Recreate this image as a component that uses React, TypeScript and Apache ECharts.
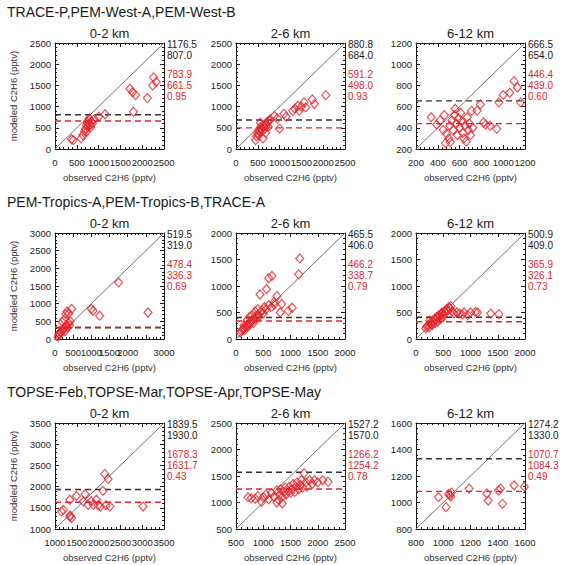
import React, { useEffect, useRef } from "react";
import * as echarts from "echarts";

const FONT = "'Liberation Sans', Arial, Helvetica, sans-serif";
const RED = "#e3262d";
const INK = "#1a1a1a";

const rowTitles = [
  "TRACE-P,PEM-West-A,PEM-West-B",
  "PEM-Tropics-A,PEM-Tropics-B,TRACE-A",
  "TOPSE-Feb,TOPSE-Mar,TOPSE-Apr,TOPSE-May",
];
const altitudeBands = ["0-2 km", "2-6 km", "6-12 km"];

// [min, max, interval] shared by x and y in each panel
const axisRanges = [
  [0, 2500, 500],
  [0, 2500, 500],
  [200, 1200, 200],
  [0, 3000, 500],
  [0, 2000, 500],
  [0, 2000, 500],
  [1000, 3500, 500],
  [500, 2500, 500],
  [800, 1600, 200],
];

// observed mean, observed median (black)
const observedStats = [
  [1176.5, 807.0],
  [880.8, 684.0],
  [666.5, 654.0],
  [519.5, 319.0],
  [465.5, 406.0],
  [500.9, 409.0],
  [1839.5, 1930.0],
  [1527.2, 1570.0],
  [1274.2, 1330.0],
];

// modeled mean, modeled median, correlation (red)
const modeledStats = [
  [783.9, 661.5, 0.95],
  [591.2, 498.0, 0.93],
  [446.4, 439.0, 0.6],
  [478.4, 336.3, 0.69],
  [466.2, 338.7, 0.79],
  [365.9, 326.1, 0.73],
  [1678.3, 1631.7, 0.43],
  [1266.2, 1254.2, 0.78],
  [1070.7, 1084.3, 0.49],
];

// [observed, modeled] pairs, pptv
const pacificLow = [
  [380, 230], [420, 210], [600, 250], [640, 330], [680, 420], [700, 480], [720, 560],
  [740, 620], [760, 680], [780, 600], [800, 560], [820, 520], [790, 720], [830, 650],
  [860, 600], [750, 520], [720, 400], [900, 700], [1000, 760], [1150, 820], [1800, 880],
  [1720, 1420], [1780, 1340], [1850, 1270], [2120, 1200], [2260, 1690], [2240, 1500],
  [2320, 1580],
];
const pacificMid = [
  [450, 210], [470, 300], [500, 380], [520, 450], [540, 400], [560, 500], [580, 460],
  [600, 420], [620, 250], [640, 540], [660, 480], [680, 600], [700, 560], [720, 640],
  [740, 520], [760, 660], [780, 700], [520, 320], [600, 560], [560, 620], [880, 780],
  [1000, 480], [950, 720], [1100, 830], [1150, 760], [1300, 900], [1350, 950],
  [1420, 1020], [1450, 900], [1500, 1000], [1560, 1100], [1600, 980], [1750, 1170],
  [1800, 1060], [2060, 1270], [680, 380],
];
const pacificHigh = [
  [340, 500], [390, 430], [420, 470], [450, 380], [460, 520], [470, 255], [480, 345],
  [500, 300], [510, 420], [515, 265], [530, 470], [540, 380], [550, 520], [560, 580],
  [570, 440], [580, 330], [590, 490], [600, 400], [610, 540], [620, 460], [630, 350],
  [640, 300], [650, 420], [660, 270], [670, 500], [680, 380], [690, 440], [700, 330],
  [710, 560], [720, 400], [760, 560], [790, 620], [820, 450], [840, 430], [880, 420],
  [940, 390], [960, 640], [1000, 710], [1060, 730], [1100, 840], [1130, 780], [1160, 640],
];
const tropicsLow = [
  [80, 60], [100, 120], [120, 150], [150, 200], [180, 180], [200, 250], [220, 280],
  [250, 300], [270, 220], [300, 350], [320, 400], [350, 320], [380, 450], [400, 380],
  [420, 500], [300, 700], [330, 780], [380, 720], [460, 850], [200, 480], [250, 550],
  [1000, 850], [1050, 800], [1230, 660], [1750, 1600], [2560, 750],
];
const tropicsMid = [
  [80, 120], [100, 150], [120, 180], [140, 200], [160, 170], [180, 230], [200, 260],
  [220, 240], [240, 300], [260, 280], [280, 330], [300, 360], [320, 300], [340, 400],
  [360, 380], [380, 430], [400, 460], [420, 420], [450, 500], [480, 540], [500, 480],
  [520, 600], [550, 560], [600, 640], [650, 600], [700, 650], [440, 840], [560, 940],
  [600, 1150], [660, 1190], [750, 810], [840, 660], [810, 500], [960, 530], [1030, 590],
  [1150, 1220], [1170, 1520], [150, 260], [200, 350], [250, 420], [300, 450], [350, 520],
  [400, 560], [700, 700],
];
const tropicsHigh = [
  [180, 200], [200, 230], [220, 260], [240, 220], [260, 300], [280, 280], [300, 340],
  [320, 320], [340, 380], [360, 360], [380, 420], [400, 400], [420, 450], [440, 430],
  [460, 480], [480, 500], [500, 460], [520, 520], [540, 500], [560, 560], [580, 540],
  [600, 600], [620, 580], [640, 620], [660, 520], [700, 480], [750, 500], [800, 480],
  [850, 460], [880, 500], [950, 450], [1000, 500], [1090, 510], [1130, 500], [1370, 480],
  [1520, 470], [250, 350], [300, 260], [400, 330], [500, 420], [350, 300], [450, 380],
];
const topseLow = [
  [1150, 1410], [1190, 1450], [1340, 1290], [1380, 1260], [1350, 1320], [1340, 1690],
  [1490, 1780], [1650, 1650], [1690, 1820], [1760, 1570], [1830, 1660], [1880, 1570],
  [1950, 1690], [1990, 1560], [2040, 1530], [2100, 1900], [2140, 2300], [2220, 2180],
  [2170, 1560], [2260, 1530], [3020, 1530],
];
const topseMid = [
  [720, 1100], [780, 1080], [850, 1070], [900, 1120], [970, 1010], [1000, 1100],
  [1050, 1150], [1100, 1060], [1150, 1180], [1200, 1100], [1250, 1230], [1280, 1050],
  [1300, 1150], [1320, 1250], [1350, 1100], [1380, 1200], [1400, 1280], [1420, 1150],
  [1450, 1220], [1480, 1300], [1500, 1180], [1520, 1250], [1550, 1350], [1580, 1200],
  [1600, 1300], [1620, 1380], [1650, 1250], [1680, 1330], [1700, 1420], [1720, 1280],
  [1750, 1550], [1780, 1380], [1800, 1300], [1850, 1420], [1900, 1350], [1940, 1420],
  [2000, 1380], [2090, 1420], [2190, 1390], [1250, 1000], [1350, 980],
];
const topseHigh = [
  [965, 1040], [1020, 965], [1040, 1065], [1048, 1055], [1060, 1075], [1055, 1045],
  [1190, 1105], [1320, 1068], [1330, 1015], [1405, 1090], [1420, 1105], [1435, 990],
  [1520, 1130], [1595, 1118],
];

const panelData = [
  pacificLow, pacificMid, pacificHigh,
  tropicsLow, tropicsMid, tropicsHigh,
  topseLow, topseMid, topseHigh,
];

// panel frames in pixels
const COL_LEFT = [55, 236, 416];
const ROW_TOP = [43, 233, 423];
const PANEL_W = 109;
const PANEL_H = 106;

const plain = (v: number) => String(v);

function buildOption() {
  const grid: any[] = [];
  const xAxis: any[] = [];
  const yAxis: any[] = [];
  const series: any[] = [];
  const graphic: any[] = [];

  panelData.forEach((points, i) => {
    const r = Math.floor(i / 3);
    const c = i % 3;
    const left = COL_LEFT[c];
    const top = ROW_TOP[r];
    const [lo, hi, step] = axisRanges[i];
    grid.push({ left, top, width: PANEL_W, height: PANEL_H });

    const frame = {
      type: "value",
      gridIndex: i,
      min: lo,
      max: hi,
      interval: step,
      splitLine: { show: false },
      axisLine: { show: true, onZero: false, lineStyle: { color: INK, width: 1 } },
      axisTick: { show: true, inside: true, length: 4, lineStyle: { color: INK } },
      minorTick: { show: true, splitNumber: 5, length: 2, lineStyle: { color: INK } },
    };
    const labelStyle = {
      fontSize: 9.5,
      color: "#222",
      fontFamily: FONT,
      formatter: plain,
      showMinLabel: true,
      showMaxLabel: true,
      hideOverlap: false,
    };

    xAxis.push({
      ...frame,
      position: "bottom",
      axisLabel: { ...labelStyle, margin: 8 },
      name: "observed C2H6 (pptv)",
      nameLocation: "middle",
      nameGap: 23,
      nameTextStyle: { fontSize: 9.5, color: "#333", fontFamily: FONT },
    });
    xAxis.push({ ...frame, position: "top", axisLabel: { show: false } });
    yAxis.push({
      ...frame,
      position: "left",
      axisLabel: { ...labelStyle, margin: 4 },
      name: c === 0 ? "modeled C2H6 (pptv)" : "",
      nameLocation: "middle",
      nameGap: 37,
      nameTextStyle: { fontSize: 9.5, color: "#333", fontFamily: FONT },
    });
    yAxis.push({ ...frame, position: "right", axisLabel: { show: false } });

    const axisRef = { xAxisIndex: 2 * i, yAxisIndex: 2 * i };

    // 1:1 line
    series.push({
      type: "line",
      ...axisRef,
      data: [[lo, lo], [hi, hi]],
      symbol: "none",
      silent: true,
      lineStyle: { color: "#707070", width: 1 },
      z: 1,
    });
    // observed median (black dashed)
    series.push({
      type: "line",
      ...axisRef,
      data: [[lo, observedStats[i][1]], [hi, observedStats[i][1]]],
      symbol: "none",
      silent: true,
      lineStyle: { color: "#333", width: 1.4, type: [6, 4] },
      z: 2,
    });
    // modeled median (red dashed)
    series.push({
      type: "line",
      ...axisRef,
      data: [[lo, modeledStats[i][1]], [hi, modeledStats[i][1]]],
      symbol: "none",
      silent: true,
      lineStyle: { color: RED, width: 1.4, type: [6, 4] },
      z: 2,
    });
    // observations vs model
    series.push({
      type: "scatter",
      ...axisRef,
      data: points,
      symbol: "diamond",
      symbolSize: [8, 9],
      itemStyle: { color: "rgba(0,0,0,0)", borderColor: RED, borderWidth: 1.2 },
      z: 3,
    });

    // altitude band title
    graphic.push({
      type: "text",
      x: left + PANEL_W / 2,
      y: top - 10,
      style: {
        text: altitudeBands[c],
        fontSize: 13,
        fontFamily: FONT,
        fill: INK,
        align: "center",
        verticalAlign: "middle",
      },
    });

    // statistics beside the panel
    const tx = left + PANEL_W + 3;
    const statLines = [
      { text: observedStats[i][0].toFixed(1), dy: 1, fill: INK },
      { text: observedStats[i][1].toFixed(1), dy: 12, fill: INK },
      { text: modeledStats[i][0].toFixed(1), dy: 31, fill: RED },
      { text: modeledStats[i][1].toFixed(1), dy: 42, fill: RED },
      { text: modeledStats[i][2].toFixed(2), dy: 53, fill: RED },
    ];
    statLines.forEach((s) => {
      graphic.push({
        type: "text",
        x: tx,
        y: top + s.dy,
        style: {
          text: s.text,
          fontSize: 10,
          fontFamily: FONT,
          fill: s.fill,
          align: "left",
          verticalAlign: "middle",
        },
      });
    });
  });

  const rowTitleY = [12, 202, 392];
  rowTitles.forEach((t, r) => {
    graphic.push({
      type: "text",
      x: 7,
      y: rowTitleY[r],
      style: {
        text: t,
        fontSize: 14,
        fontFamily: FONT,
        fill: INK,
        align: "left",
        verticalAlign: "middle",
      },
    });
  });

  return {
    animation: false,
    backgroundColor: "#ffffff",
    textStyle: { fontFamily: FONT },
    grid,
    xAxis,
    yAxis,
    series,
    graphic,
  };
}

export default function App() {
  const ref = useRef<HTMLDivElement>(null);

  useEffect(() => {
    if (!ref.current) return;
    const chart = echarts.init(ref.current, undefined, { renderer: "svg" });
    chart.setOption(buildOption() as any);
    return () => chart.dispose();
  }, []);

  return (
    <div
      ref={ref}
      style={{ position: "fixed", left: 0, top: 0, width: 563, height: 565, background: "#fff" }}
    />
  );
}
